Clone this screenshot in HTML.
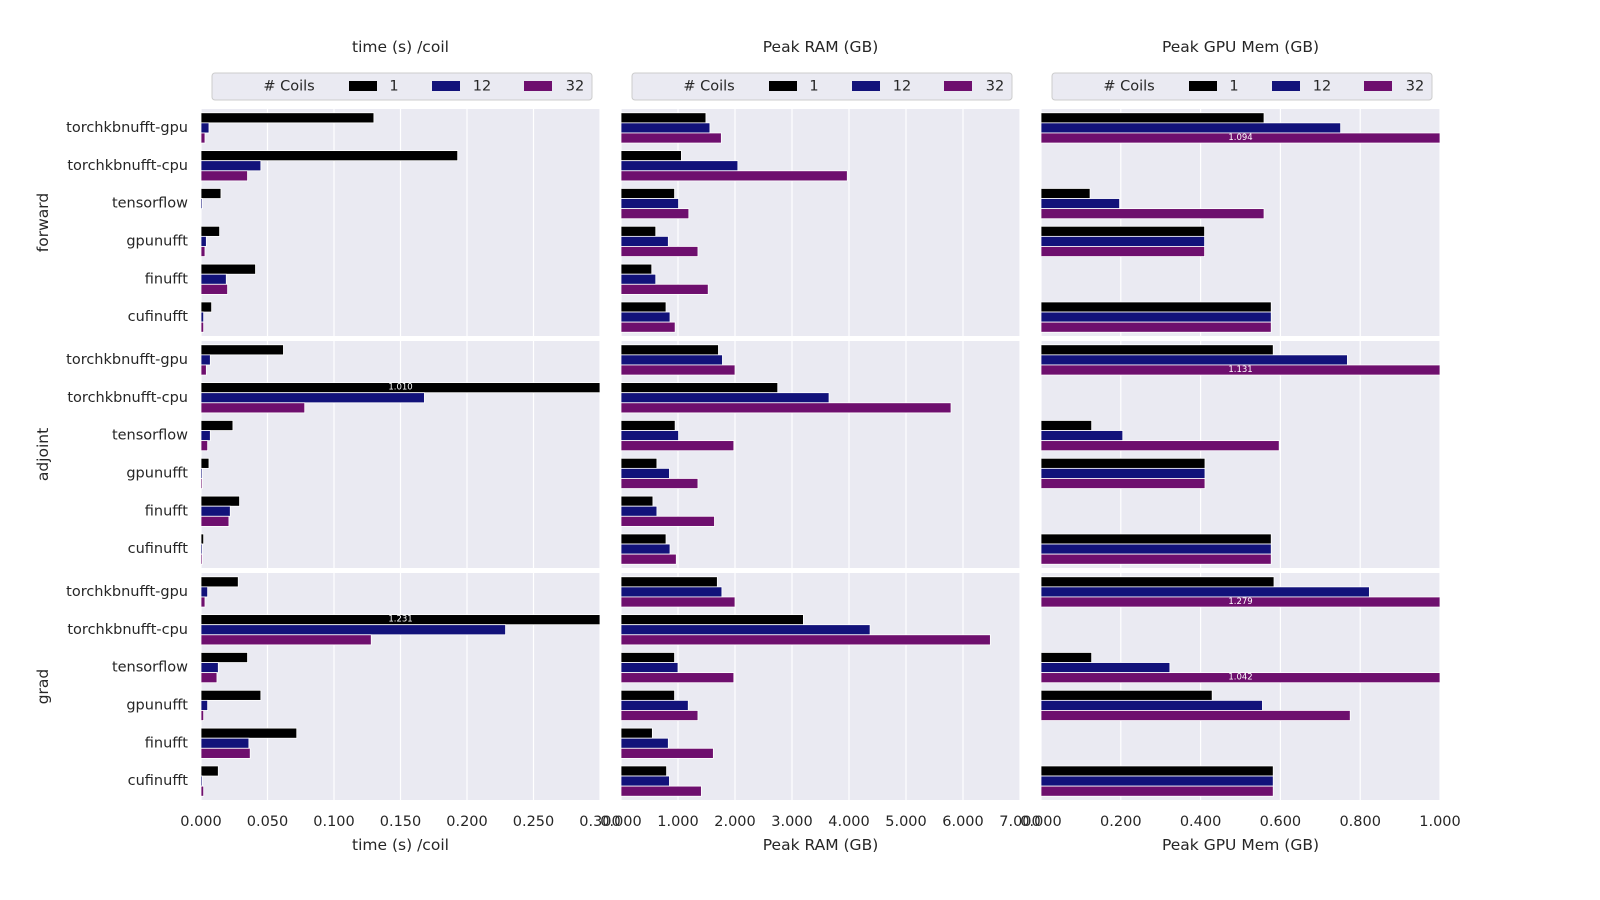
<!DOCTYPE html>
<html><head><meta charset="utf-8"><style>
html,body{margin:0;padding:0;background:#fff}
svg{display:block;font-family:"DejaVu Sans","Liberation Sans",sans-serif}
</style></head><body>
<svg id="chart" width="1600" height="900" viewBox="0 0 1600 900" xmlns="http://www.w3.org/2000/svg"></svg>
<script>
const categories=["torchkbnufft-gpu","torchkbnufft-cpu","tensorflow","gpunufft","finufft","cufinufft"];
const ops=["forward","adjoint","grad"];
const coilLabels=["1","12","32"];
const metricTitles=["time (s) /coil","Peak RAM (GB)","Peak GPU Mem (GB)"];
const metricMax=[0.3,7,1];
const ticksTime=["0.000","0.050","0.100","0.150","0.200","0.250","0.300"];
const ticksRam=["0.000","1.000","2.000","3.000","4.000","5.000","6.000","7.000"];
const ticksGpu=["0.000","0.200","0.400","0.600","0.800","1.000"];
// values[op][category] = [coil1, coil12, coil32]
const timeForward=[[0.130,0.006,0.003],[0.193,0.045,0.035],[0.015,0.001,0],[0.014,0.004,0.003],[0.041,0.019,0.020],[0.008,0.002,0.002]];
const timeAdjoint=[[0.062,0.007,0.004],[1.010,0.168,0.078],[0.024,0.007,0.005],[0.006,0.001,0.001],[0.029,0.022,0.021],[0.002,0.001,0.001]];
const timeGrad=[[0.028,0.005,0.003],[1.231,0.229,0.128],[0.035,0.013,0.012],[0.045,0.005,0.002],[0.072,0.036,0.037],[0.013,0.001,0.002]];
const ramForward=[[1.49,1.56,1.76],[1.06,2.05,3.97],[0.94,1.01,1.19],[0.61,0.83,1.35],[0.54,0.61,1.53],[0.79,0.86,0.95]];
const ramAdjoint=[[1.71,1.78,2.00],[2.75,3.65,5.79],[0.95,1.01,1.98],[0.63,0.85,1.35],[0.56,0.63,1.64],[0.79,0.86,0.97]];
const ramGrad=[[1.69,1.77,2.00],[3.20,4.37,6.48],[0.94,1.00,1.98],[0.94,1.18,1.35],[0.55,0.83,1.62],[0.80,0.85,1.41]];
const gpuForward=[[0.559,0.751,1.094],[0,0,0],[0.123,0.197,0.559],[0.41,0.41,0.41],[0,0,0],[0.577,0.577,0.577]];
const gpuAdjoint=[[0.582,0.768,1.131],[0,0,0],[0.127,0.205,0.597],[0.411,0.411,0.411],[0,0,0],[0.577,0.577,0.577]];
const gpuGrad=[[0.584,0.823,1.279],[0,0,0],[0.127,0.323,1.042],[0.429,0.555,0.775],[0,0,0],[0.582,0.582,0.582]];

const data=[[timeForward,timeAdjoint,timeGrad],[ramForward,ramAdjoint,ramGrad],[gpuForward,gpuAdjoint,gpuGrad]];
const tickSets=[ticksTime,ticksRam,ticksGpu];
const colors=["#000000","#12127a","#6e0f6e"];
const svg=document.getElementById('chart');
const NS="http://www.w3.org/2000/svg";
const colX=[201,621,1041], colW=399;
const rowY=[109,341,573], rowH=227;
function mk(tag,attrs,parent){const e=document.createElementNS(NS,tag);for(const k in attrs)e.setAttribute(k,attrs[k]);(parent||svg).appendChild(e);return e;}
function txt(s,x,y,size,anchor,parent,extra){const t=mk('text',Object.assign({x:x,y:y,'font-size':size,'text-anchor':anchor,'dominant-baseline':'central',fill:'#262626'},extra||{}),parent);t.textContent=s;return t;}

for(let c=0;c<3;c++){
  const xs=v=>colX[c]+v/metricMax[c]*colW;
  const title=txt(metricTitles[c],colX[c]+colW/2,47,15.5,'middle');
  
  
  const xt=txt(metricTitles[c],colX[c]+colW/2,845,15.5,'middle');
  
  
  const lx=colX[c]+11;
  const lg=mk('g',{});
  
  
  mk('rect',{x:lx,y:73,width:380,height:27,rx:3,fill:'#eaeaf2',stroke:'#cccccc'},lg);
  txt('# Coils',lx+77,86.5,14.5,'middle',lg);
  const px=[137,220,312], tx=[182,270,363];
  for(let k=0;k<3;k++){
    const le=mk('g',{},lg);
    
    
    mk('rect',{x:lx+px[k],y:81,width:28,height:10,fill:colors[k]},le);
    txt(coilLabels[k],lx+tx[k],86.5,14.5,'middle',le);
  }
  tickSets[c].forEach(t=>{
    const tl=txt(t,xs(parseFloat(t)),822,14.5,'middle');
    
    
  });
  for(let r=0;r<3;r++){
    const g=mk('g',{});
    
    
    mk('rect',{x:colX[c],y:rowY[r],width:colW,height:rowH,fill:'#eaeaf2'},g);
    tickSets[c].forEach(t=>{const gx=xs(parseFloat(t));mk('line',{x1:gx,x2:gx,y1:rowY[r],y2:rowY[r]+rowH,stroke:'#fff','stroke-width':1.2},g);});
    const band=rowH/6, bh=band*0.8/3;
    const vals=data[c][r];
    for(let i=0;i<categories.length;i++){
      for(let k=0;k<3;k++){
        const v=vals[i][k];
        if(!(v>0))continue;
        const w=Math.min(v,metricMax[c])/metricMax[c]*colW;
        const y=rowY[r]+band*i+band*0.1+bh*k;
        const b=mk('rect',{x:colX[c],y:y,width:w,height:bh,fill:colors[k],stroke:'#fff','stroke-width':0.8},g);
        
        
        if(v>metricMax[c]){
          const a=txt(v.toFixed(3),colX[c]+colW/2,y+bh/2,8.5,'middle',g,{fill:'#ffffff'});
          
          
        }
      }
      if(c===0){
        const cl=txt(categories[i],188,rowY[r]+band*(i+0.5),14.5,'end');
        
        
      }
    }
  }
}
for(let r=0;r<3;r++){
  const cy=rowY[r]+rowH/2;
  const t=txt(ops[r],43,cy,15.5,'middle',svg,{transform:'rotate(-90 43 '+cy+')'});
  
  
}
</script>
</body></html>
